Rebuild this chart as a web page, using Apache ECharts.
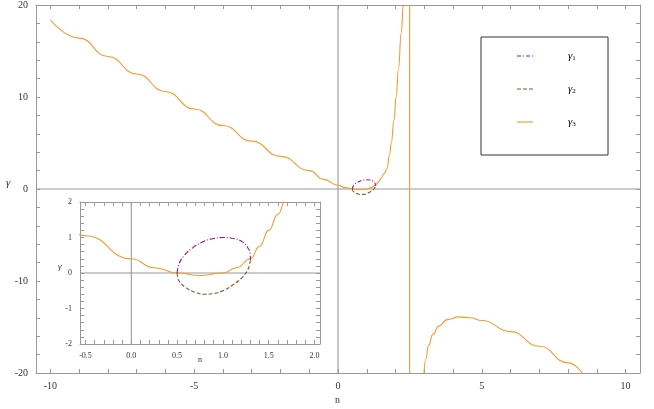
<!DOCTYPE html><html><head><meta charset="utf-8">
<script src="https://cdn.jsdelivr.net/npm/echarts@6/dist/echarts.min.js"></script>
<style>html,body{margin:0;background:#fff}#c{width:654px;height:409px}</style></head><body><div id="c"></div>
<script>
const g3Left=[[-10,18.4],[-9,16.4],[-8,14.4],[-7,12.5],[-6,10.6],[-5,8.7],[-4,6.9],[-3,5.2],[-2,3.55],[-1,2.0],[-0.5,1.05],[0,0.4],[0.25,0.15],[0.5,0],[0.75,-0.07],[1.0,0],[1.15,0.15],[1.3,0.4],[1.4,0.75],[1.5,1.2],[1.6,1.65],[1.7,2.2],[1.8,3.8],[1.85,5],[1.95,7.5],[2.02,10],[2.1,13],[2.2,17],[2.27,20],[2.3,22]];
const g3Pole=[[2.49,-20],[2.49,20]];
const g3Right=[[2.99,-20],[3.05,-18.5],[3.15,-17],[3.3,-15.8],[3.5,-14.9],[3.8,-14.2],[4.2,-13.9],[4.6,-14.0],[5,-14.3],[6,-15.5],[7,-17.1],[8,-18.9],[8.49,-20]];
const g1=[[0.5,0],[0.52,0.25],[0.58,0.5],[0.68,0.73],[0.8,0.9],[0.9,0.97],[1.0,1.0],[1.1,0.98],[1.2,0.9],[1.27,0.72],[1.3,0.5],[1.3,0.35]];
const g2=[[0.5,0],[0.52,-0.22],[0.6,-0.42],[0.7,-0.55],[0.8,-0.6],[0.9,-0.58],[1.0,-0.5],[1.1,-0.35],[1.2,-0.15],[1.27,0.08],[1.3,0.35]];
const mainXTicks=[-10,-5,0,5,10], mainYTicks=[-20,-10,0,10,20];
const insetXTicks=[-0.5,0.0,0.5,1.0,1.5,2.0], insetYTicks=[-2,-1,0,1,2];
const legendNames=['1','2','3'];

const ORANGE='#f59a2e', PURPLE='#8b1a8f', BROWN='#8a5a2b', GRAY='#999';
const F='Liberation Serif';
function ax(gi,min,max,labels,minor,pos,show,fmt,fs,z){
  return {type:'value',gridIndex:gi,min,max,position:pos,z,
    axisLine:{show:true,onZero:false,lineStyle:{color:GRAY}},
    axisTick:{show:true,inside:true,length:4,customValues:minor,lineStyle:{color:GRAY}},
    splitLine:{show:false},
    axisLabel:{show,customValues:labels,formatter:fmt,fontFamily:F,fontSize:fs,color:'#333'}};
}
const range=(a,b,s)=>{const r=[];for(let v=a;v<=b+1e-9;v+=s)r.push(Math.round(v*1000)/1000);return r;};
const chart=echarts.init(document.getElementById('c'));
const lineS=(data,xi,yi,color,type,z,smooth,mono)=>({type:'line',xAxisIndex:xi,yAxisIndex:yi,data,showSymbol:false,symbol:'none',smooth,smoothMonotone:mono,z,
  lineStyle:{color,width:1.1,type},silent:true,animation:false,clip:true});
chart.setOption({
  animation:false,
  grid:[{left:36,right:14,top:5,bottom:36,show:false},{left:80,top:202,width:240,height:142,show:false}],
  xAxis:[ax(0,-10.5,10.5,mainXTicks,range(-10,10,1),'bottom',true,v=>String(v),10,2),
         ax(0,-10.5,10.5,mainXTicks,range(-10,10,1),'top',false,null,10,2),
         ax(1,-0.56,2.06,insetXTicks,range(-0.5,2,0.1),'bottom',true,v=>v.toFixed(1),8,60),
         ax(1,-0.56,2.06,insetXTicks,range(-0.5,2,0.1),'top',false,null,8,60)],
  yAxis:[ax(0,-20,20,mainYTicks,range(-20,20,2),'left',true,v=>String(v),10,2),
         ax(0,-20,20,mainYTicks,range(-20,20,2),'right',false,null,10,2),
         ax(1,-2,2,insetYTicks,range(-2,2,0.2),'left',true,v=>String(v),8,60),
         ax(1,-2,2,insetYTicks,range(-2,2,0.2),'right',false,null,8,60)],
  series:[
    lineS([[-10.5,0],[10.5,0]],0,0,GRAY,'solid',1,false),
    lineS([[0,-20],[0,20]],0,0,GRAY,'solid',1,false),
    lineS(g3Left,0,0,ORANGE,'solid',3,0.5,'x'),
    lineS(g3Pole,0,0,ORANGE,'solid',3,false),
    lineS(g3Right,0,0,ORANGE,'solid',3,0.5,'x'),
    lineS(g1,0,0,PURPLE,[4,2,1,2],3,0.4),
    lineS(g2,0,0,BROWN,[4,2],3,0.4),
    lineS([[-0.56,0],[2.06,0]],2,2,GRAY,'solid',61,false),
    lineS([[0,-2],[0,2]],2,2,GRAY,'solid',61,false),
    lineS(g3Left,2,2,ORANGE,'solid',62,0.5,'x'),
    lineS(g1,2,2,PURPLE,[5,2,1,2],62,0.4),
    lineS(g2,2,2,BROWN,[4,2],62,0.4)
  ],
  graphic:[
    {type:'rect',z:50,shape:{x:80,y:202,width:240,height:142},style:{fill:'#fff'}},
    {type:'rect',z:50,shape:{x:481,y:37,width:127,height:118},style:{fill:'#fff',stroke:'#333',lineWidth:1}},
    ...legendNames.map((n,i)=>[
      {type:'line',z:51,shape:{x1:517,y1:56+i*33,x2:533,y2:56+i*33},style:{stroke:[PURPLE,BROWN,ORANGE][i],lineWidth:1.1,lineDash:[[4,2,1,2],[4,2],null][i]}},
      {type:'text',z:51,x:568,y:56+i*33,style:{text:'{g|γ}{s|'+n+'}',verticalAlign:'middle',rich:{g:{fontFamily:F,fontStyle:'italic',fontSize:11,color:'#333'},s:{fontFamily:F,fontSize:7,color:'#333',padding:[4,0,0,0]}}}}
    ]).flat(),
    {type:'text',x:335,y:395,style:{text:'n',fontFamily:F,fontSize:10,fill:'#333'}},
    {type:'text',x:6,y:178,style:{text:'γ',fontFamily:F,fontStyle:'italic',fontSize:11,fill:'#333'}},
    {type:'text',z:70,x:198,y:356,style:{text:'n',fontFamily:F,fontSize:8,fill:'#333'}},
    {type:'text',z:70,x:58,y:262,style:{text:'γ',fontFamily:F,fontStyle:'italic',fontSize:9,fill:'#333'}}
  ]
});
</script></body></html>
